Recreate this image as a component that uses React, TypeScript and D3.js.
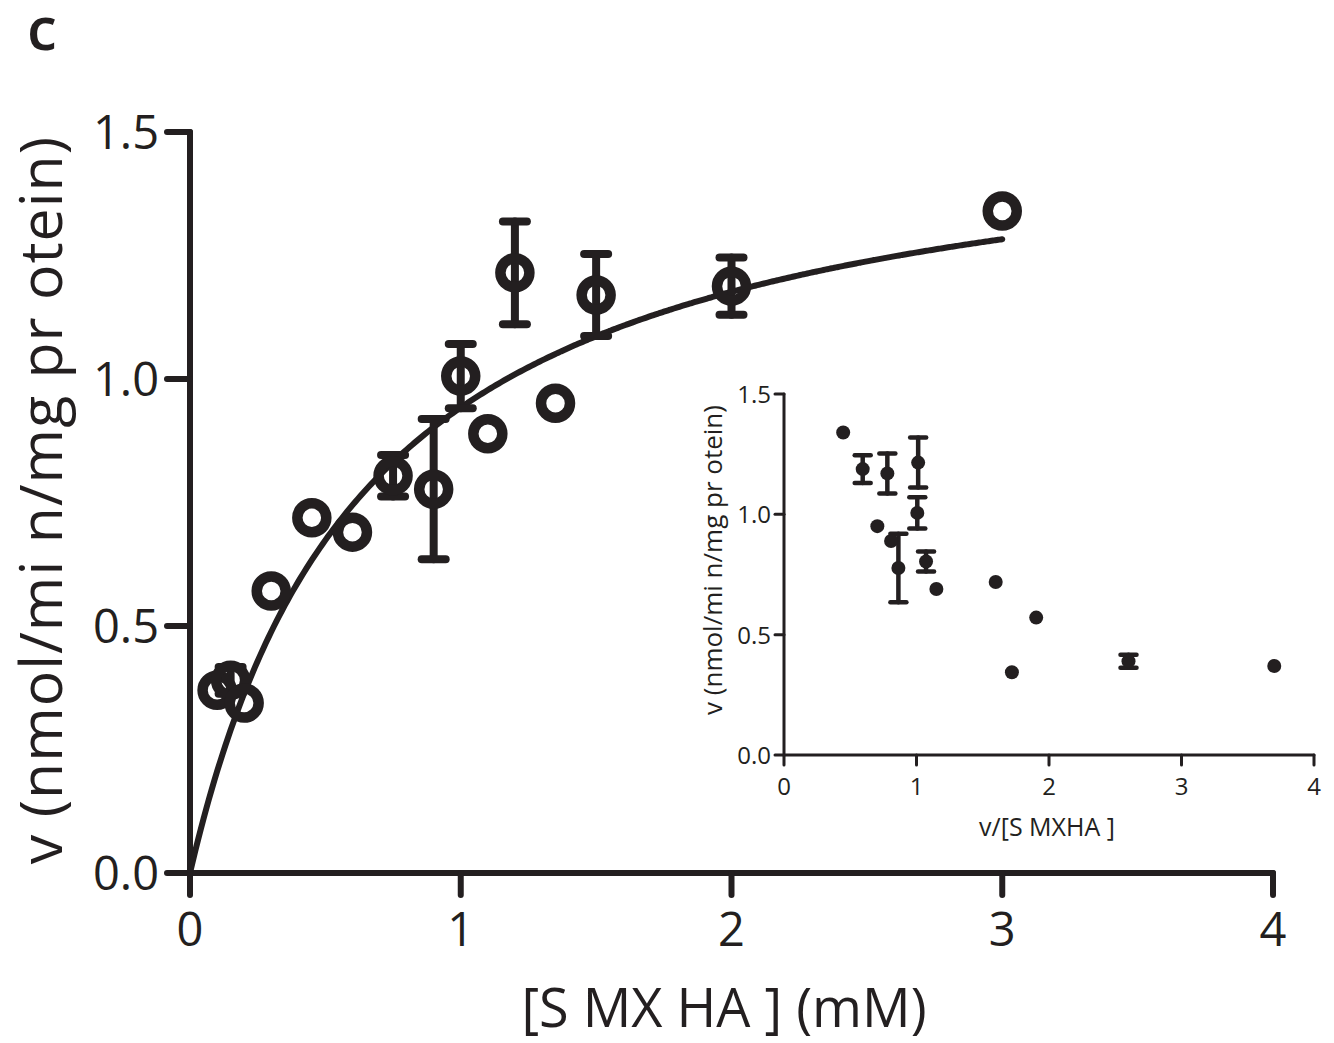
import React from "react";
import * as d3 from "d3";

// Substrate concentrations (mM), rates v (nmol/min/mg protein) and SD where measured
const substrate = [0.1, 0.15, 0.2, 0.3, 0.45, 0.6, 0.75, 0.9, 1.0, 1.1, 1.2, 1.35, 1.5, 2.0, 3.0];
const rate = [0.37, 0.39, 0.344, 0.571, 0.719, 0.69, 0.804, 0.777, 1.006, 0.889, 1.215, 0.951, 1.17, 1.188, 1.34];
const rateSd = [0, 0.027, 0, 0, 0, 0, 0.042, 0.142, 0.065, 0, 0.104, 0, 0.083, 0.058, 0];

// Michaelis–Menten fit
const vmax = 1.566;
const km = 0.662;

const mainXTicks = [0, 1, 2, 3, 4];
const mainYTicks = [0, 0.5, 1.0, 1.5];
const insetXTicks = [0, 1, 2, 3, 4];
const insetYTicks = [0, 0.5, 1.0, 1.5];

const INK = "#231f20";
const FONT = "'Open Sans', 'Noto Sans', sans-serif";

export default function App() {
  const x = d3.scaleLinear().domain([0, 4]).range([190, 1273]);
  const y = d3.scaleLinear().domain([0, 1.5]).range([873, 132]);
  const ix = d3.scaleLinear().domain([0, 4]).range([784, 1314]);
  const iy = d3.scaleLinear().domain([0, 1.5]).range([755, 394]);

  const points = substrate.map((s, i) => ({ s, v: rate[i], sd: rateSd[i], ratio: rate[i] / s }));

  const fitX = d3.range(0, 3.0001, 0.01);
  const fitLine = d3
    .line<number>()
    .x((s) => x(s))
    .y((s) => y((vmax * s) / (km + s)))
    .curve(d3.curveMonotoneX);

  const fmtY = (d: number) => d.toFixed(1);

  return (
    <svg
      width={1334}
      height={1043}
      style={{ position: "absolute", left: 0, top: 0, background: "#fff" }}
      fontFamily={FONT}
      fill={INK}
    >
      <text x={27} y={50} fontSize={60} fontWeight={600}>c</text>

      {/* main axes */}
      <g stroke={INK} strokeWidth={6} strokeLinecap="round" fill="none">
        <line x1={x(0)} x2={x(0)} y1={y(1.5)} y2={y(0)} />
        <line x1={x(0)} x2={x(4)} y1={y(0)} y2={y(0)} />
        {mainYTicks.map((t) => (
          <line key={"yt" + t} x1={x(0) - 23} x2={x(0)} y1={y(t)} y2={y(t)} />
        ))}
        {mainXTicks.map((t) => (
          <line key={"xt" + t} x1={x(t)} x2={x(t)} y1={y(0)} y2={y(0) + 22} />
        ))}
      </g>
      {mainYTicks.map((t) => (
        <text key={"yl" + t} x={x(0) - 31} y={y(t) + 17} fontSize={47} textAnchor="end">
          {fmtY(t)}
        </text>
      ))}
      {mainXTicks.map((t) => (
        <text key={"xl" + t} x={x(t)} y={y(0) + 73} fontSize={47} textAnchor="middle">
          {t}
        </text>
      ))}
      <text x={724} y={1027} fontSize={54} textAnchor="middle">[S MX HA ] (mM)</text>
      <text transform="translate(62,500) rotate(-90)" fontSize={59} letterSpacing={1} textAnchor="middle">
        v (nmol/mi n/mg pr otein)
      </text>

      {/* fitted curve */}
      <path d={fitLine(fitX) || ""} fill="none" stroke={INK} strokeWidth={6} strokeLinecap="round" />

      {/* error bars */}
      <g stroke={INK} strokeWidth={8} strokeLinecap="round" fill="none">
        {points
          .filter((p) => p.sd > 0)
          .map((p, i) => (
            <g key={"eb" + i}>
              <line x1={x(p.s)} x2={x(p.s)} y1={y(p.v - p.sd)} y2={y(p.v + p.sd)} />
              <line x1={x(p.s) - 12} x2={x(p.s) + 12} y1={y(p.v - p.sd)} y2={y(p.v - p.sd)} />
              <line x1={x(p.s) - 12} x2={x(p.s) + 12} y1={y(p.v + p.sd)} y2={y(p.v + p.sd)} />
            </g>
          ))}
      </g>

      {/* open circle markers */}
      <g stroke={INK} strokeWidth={10.5} fill="none">
        {points.map((p, i) => (
          <circle key={"pt" + i} cx={x(p.s)} cy={y(p.v)} r={14.5} />
        ))}
      </g>

      {/* inset: v against v/[SMXHA] */}
      <g stroke={INK} strokeWidth={3} strokeLinecap="round" fill="none">
        <line x1={ix(0)} x2={ix(0)} y1={iy(1.5)} y2={iy(0)} />
        <line x1={ix(0)} x2={ix(4)} y1={iy(0)} y2={iy(0)} />
        {insetYTicks.map((t) => (
          <line key={"iyt" + t} x1={ix(0) - 9} x2={ix(0)} y1={iy(t)} y2={iy(t)} />
        ))}
        {insetXTicks.map((t) => (
          <line key={"ixt" + t} x1={ix(t)} x2={ix(t)} y1={iy(0)} y2={iy(0) + 10} />
        ))}
      </g>
      {insetYTicks.map((t) => (
        <text key={"iyl" + t} x={ix(0) - 13} y={iy(t) + 9} fontSize={24} textAnchor="end">
          {fmtY(t)}
        </text>
      ))}
      {insetXTicks.map((t) => (
        <text key={"ixl" + t} x={ix(t)} y={iy(0) + 40} fontSize={24} textAnchor="middle">
          {t}
        </text>
      ))}
      <text x={1047} y={836} fontSize={25} textAnchor="middle">v/[S MXHA ]</text>
      <text transform="translate(722,560) rotate(-90)" fontSize={26} textAnchor="middle">
        v (nmol/mi n/mg pr otein)
      </text>

      <g stroke={INK} strokeWidth={4.5} strokeLinecap="round" fill="none">
        {points
          .filter((p) => p.sd > 0)
          .map((p, i) => (
            <g key={"ieb" + i}>
              <line x1={ix(p.ratio)} x2={ix(p.ratio)} y1={iy(p.v - p.sd)} y2={iy(p.v + p.sd)} />
              <line x1={ix(p.ratio) - 8} x2={ix(p.ratio) + 8} y1={iy(p.v - p.sd)} y2={iy(p.v - p.sd)} />
              <line x1={ix(p.ratio) - 8} x2={ix(p.ratio) + 8} y1={iy(p.v + p.sd)} y2={iy(p.v + p.sd)} />
            </g>
          ))}
      </g>
      <g fill={INK}>
        {points.map((p, i) => (
          <circle key={"ipt" + i} cx={ix(p.ratio)} cy={iy(p.v)} r={7} />
        ))}
      </g>
    </svg>
  );
}
